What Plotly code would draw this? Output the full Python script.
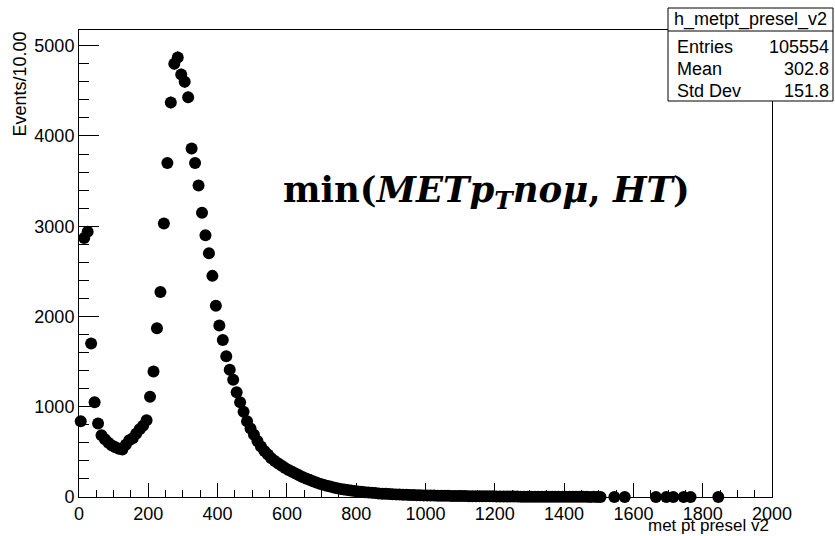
import plotly.graph_objects as go
import math

# ---------------- data ----------------
bin_centers = [
    5, 15, 25, 35, 45, 55, 65, 75, 85, 95,
    105, 115, 125, 135, 145, 155, 165, 175, 185, 195,
    205, 215, 225, 235, 245, 255, 265, 275, 285, 295,
    305, 315, 325, 335, 345, 355, 365, 375, 385, 395,
    405, 415, 425, 435, 445, 455, 465, 475, 485, 495,
    505, 515, 525, 535, 545, 555, 565, 575, 585, 595,
    605, 615, 625, 635, 645, 655, 665, 675, 685, 695,
    705, 715, 725, 735, 745, 755, 765, 775, 785, 795,
    805, 815, 825, 835, 845, 855, 865, 875, 885, 895,
    905, 915, 925, 935, 945, 955, 965, 975, 985, 995,
    1005, 1015, 1025, 1035, 1045, 1055, 1065, 1075, 1085, 1095,
    1105, 1115, 1125, 1135, 1145, 1155, 1165, 1175, 1185, 1195,
    1205, 1215, 1225, 1235, 1245, 1255, 1265, 1275, 1285, 1295,
    1305, 1315, 1325, 1335, 1345, 1355, 1365, 1375, 1385, 1395,
    1405, 1415, 1425, 1435, 1445, 1455, 1465, 1475, 1485, 1495,
    1505, 1545, 1575, 1665, 1695, 1715, 1745, 1765, 1845,
]
counts = [
    840, 2870, 2940, 1700, 1050, 815, 685, 640, 600, 570,
    550, 535, 525, 580, 630, 650, 700, 750, 790, 850,
    1110, 1390, 1870, 2270, 3030, 3700, 4370, 4800, 4870, 4680,
    4600, 4430, 3860, 3700, 3450, 3150, 2900, 2700, 2450, 2120,
    1900, 1740, 1560, 1410, 1300, 1160, 1050, 945, 840, 760,
    690, 620, 560, 510, 470, 430, 400, 370, 345, 320,
    300, 280, 260, 240, 222, 205, 190, 175, 160, 148,
    136, 125, 115, 105, 97, 90, 83, 77, 71, 66,
    61, 57, 53, 49, 46, 43, 40, 37, 35, 33,
    31, 29, 27, 26, 24, 22, 21, 20, 19, 18,
    17, 16, 16, 15, 14, 13, 13, 12, 11, 11,
    10, 10, 9, 9, 8, 8, 8, 7, 7, 7,
    6, 6, 6, 5, 5, 5, 5, 4, 4, 4,
    4, 4, 3, 3, 3, 3, 3, 3, 2, 2,
    2, 2, 2, 2, 2, 2, 2, 1, 2, 1,
    1, 1, 1, 1, 1, 1, 1, 1, 1,
]
hist_name = "h_metpt_presel_v2"
stat_labels = ["Entries", "Mean", "Std Dev"]
stat_values = ["105554", "302.8", "151.8"]
x_title = "met pt presel v2"
y_title = "Events/10.00"
formula = "<b>min(<i>METp<sub>T</sub>noμ</i>, <i>HT</i>)</b>"

# ---------------- layout geometry (pixels) ----------------
W, H = 835, 536
L, R, T, B = 79, 772, 30, 497


def px(x):
    return (x - L) / (R - L)


def py(y):
    return (B - y) / (B - T)


errs = [math.sqrt(c) for c in counts]

fig = go.Figure()
fig.add_trace(go.Scatter(
    x=bin_centers, y=counts, mode="markers",
    marker=dict(color="black", size=12, symbol="circle", line=dict(width=0)),
    error_y=dict(type="data", array=errs, color="black", thickness=1, width=0),
    error_x=dict(type="constant", value=5, color="black", thickness=1, width=0),
    cliponaxis=False, showlegend=False, hoverinfo="x+y",
))

font_main = "Liberation Sans, Arial, sans-serif"

fig.update_layout(
    width=W, height=H,
    margin=dict(l=L, r=W - R, t=T, b=H - B, pad=0),
    paper_bgcolor="white", plot_bgcolor="white",
    font=dict(family=font_main, size=18, color="black"),
    xaxis=dict(
        range=[0, 2000], tick0=0, dtick=200, ticks="inside", ticklen=14,
        tickwidth=1, tickcolor="black",
        minor=dict(dtick=50, ticks="inside", ticklen=7, tickcolor="black", tickwidth=1),
        showline=True, linecolor="black", linewidth=1, mirror=True,
        showgrid=False, zeroline=False,
        tickfont=dict(family=font_main, size=18, color="black"),
    ),
    yaxis=dict(
        range=[0, 5174], tick0=0, dtick=1000, ticks="inside", ticklen=20,
        tickwidth=1, tickcolor="black",
        minor=dict(dtick=200, ticks="inside", ticklen=10, tickcolor="black", tickwidth=1),
        showline=True, linecolor="black", linewidth=1, mirror=True,
        showgrid=False, zeroline=False,
        tickfont=dict(family=font_main, size=18, color="black"),
    ),
)

# stats box
bx0, bx1, by0, by1, bsep = 668, 833, 8, 101, 31
fig.add_shape(type="rect", xref="paper", yref="paper",
              x0=px(bx0), x1=px(bx1), y0=py(by1), y1=py(by0),
              line=dict(color="black", width=1), fillcolor="white", layer="above")
fig.add_shape(type="line", xref="paper", yref="paper",
              x0=px(bx0), x1=px(bx1), y0=py(bsep), y1=py(bsep),
              line=dict(color="black", width=1), layer="above")

ann = []
ann.append(dict(text=hist_name, x=px((bx0 + bx1) / 2), y=py((by0 + bsep) / 2),
                xanchor="center", yanchor="middle", showarrow=False,
                font=dict(family=font_main, size=18, color="black")))
row_y = [47, 69, 91]
for lab, val, ry in zip(stat_labels, stat_values, row_y):
    ann.append(dict(text=lab, x=px(675), y=py(ry), xanchor="left", yanchor="middle",
                    showarrow=False, font=dict(family=font_main, size=18, color="black")))
    ann.append(dict(text=val, x=px(831), y=py(ry), xanchor="right", yanchor="middle",
                    showarrow=False, font=dict(family=font_main, size=18, color="black")))

ann.append(dict(text=y_title, x=px(19), y=py(30), xanchor="center", yanchor="top",
                textangle=-90, showarrow=False,
                font=dict(family=font_main, size=18, color="black")))
ann.append(dict(text=x_title, x=px(771), y=py(525.5), xanchor="right", yanchor="middle",
                showarrow=False, font=dict(family=font_main, size=17, color="black")))
ann.append(dict(text=formula, x=px(486), y=py(192), xanchor="center", yanchor="middle",
                showarrow=False, font=dict(family="DejaVu Serif, serif", size=35.5, color="black")))

for a in ann:
    a["xref"] = "paper"
    a["yref"] = "paper"
fig.update_layout(annotations=ann)

fig.write_html("out.html")
